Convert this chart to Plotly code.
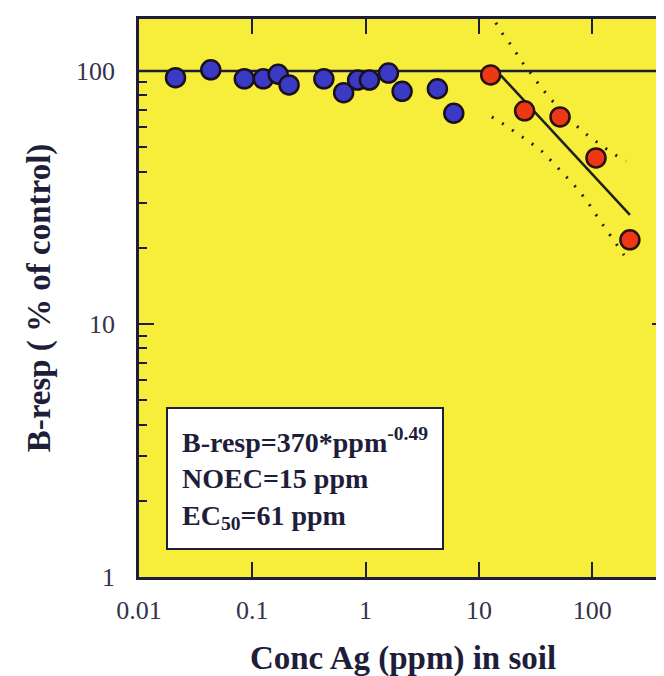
import plotly.graph_objects as go

# ---- data ----
blue_x = [0.021, 0.043, 0.085, 0.125, 0.169, 0.211, 0.428, 0.64, 0.85, 1.08, 1.59, 2.1, 4.3, 6.0]
blue_y = [94, 101, 93, 93, 97, 88, 93, 82, 92, 92, 98, 83, 85, 68]

red_x = [12.7, 25.3, 52, 108, 215]
red_y = [96.4, 69.5, 65.8, 45.3, 21.5]

fit_x = [15.6, 215]
fit_y = [96, 27]

upper_x = [14.1, 16.2, 19.9, 23.4, 28.6, 35, 43.7, 70.9, 92.2, 153, 199]
upper_y = [155, 140, 124, 110, 98, 86.5, 76.8, 61.2, 55.4, 47, 44.1]

lower_x = [13, 16.9, 22, 28, 36.4, 46.4, 59.2, 75.4, 92.2, 111, 133, 159, 191]
lower_y = [65.8, 61.2, 56.4, 52.4, 47.9, 42.9, 38.1, 33.9, 30.1, 26.5, 23.5, 20.9, 18.7]

control_level = 100

x_ticks = [0.01, 0.1, 1, 10, 100]
x_ticklabels = ["0.01", "0.1", "1", "10", "100"]
y_ticks = [1, 10, 100]
y_ticklabels = ["1", "10", "100"]
y_minor = [2, 3, 4, 5, 6, 7, 8, 9, 20, 30, 40, 50, 60, 70, 80, 90, 200, 300]

box_lines = ["B-resp=370*ppm<sup>-0.49</sup>", "NOEC=15 ppm", "EC<sub>50</sub>=61 ppm"]

x_title = "Conc Ag (ppm) in soil"
y_title = "B-resp ( % of control)"

# ---- figure ----
SERIF = "Liberation Serif"
INK = "#1e1e3a"

fig = go.Figure()

fig.add_hline(y=control_level, line=dict(color=INK, width=2.5), layer="below")

fig.add_trace(go.Scatter(x=upper_x, y=upper_y, mode="lines",
                         line=dict(color="#202020", width=3, dash="2px,10px"),
                         hoverinfo="skip", showlegend=False))
fig.add_trace(go.Scatter(x=lower_x, y=lower_y, mode="lines",
                         line=dict(color="#202020", width=3, dash="2px,10px"),
                         hoverinfo="skip", showlegend=False))
fig.add_trace(go.Scatter(x=fit_x, y=fit_y, mode="lines",
                         line=dict(color="#202020", width=2.5),
                         showlegend=False))

fig.add_trace(go.Scatter(x=blue_x, y=blue_y, mode="markers",
                         marker=dict(size=19, color="#3a3ac4",
                                     line=dict(color="#1a1020", width=2.5)),
                         showlegend=False))
fig.add_trace(go.Scatter(x=red_x, y=red_y, mode="markers",
                         marker=dict(size=19, color="#ee3814",
                                     line=dict(color="#2a1010", width=2.5)),
                         showlegend=False))

fig.add_annotation(
    text="<br>".join(box_lines),
    xref="paper", yref="paper", x=0.051, y=0.048,
    xanchor="left", yanchor="bottom", align="left", showarrow=False,
    font=dict(family=SERIF, size=28, color=INK, weight="bold"),
    bgcolor="white", bordercolor=INK, borderwidth=2, borderpad=14,
)

axis_common = dict(
    type="log", showgrid=False, zeroline=False,
    showline=True, linecolor=INK, linewidth=2.5, mirror="ticks",
    ticks="inside", ticklen=15, tickwidth=2, tickcolor=INK,
    tickfont=dict(family=SERIF, size=26, color="#33334a"),
)

fig.update_xaxes(
    **axis_common,
    range=[-2, 2.66],
    tickvals=x_ticks, ticktext=x_ticklabels,
    ticklabelstandoff=8,
    title=dict(text=x_title, standoff=22,
               font=dict(family=SERIF, size=33, color=INK, weight="bold")),
)
fig.update_yaxes(
    **axis_common,
    range=[0, 2.205],
    tickvals=y_ticks, ticktext=y_ticklabels,
    ticklabelstandoff=16,
    minor=dict(ticks="inside", ticklen=8, tickwidth=2, tickcolor=INK,
               tickvals=y_minor, showgrid=False),
    title=dict(text=y_title, standoff=16,
               font=dict(family=SERIF, size=33, color=INK, weight="bold")),
)

fig.update_layout(
    width=664, height=676,
    margin=dict(l=131, r=2, t=11, b=107),
    plot_bgcolor="#f6ee3a",
    paper_bgcolor="white",
    showlegend=False,
)

fig.write_html("out.html")
